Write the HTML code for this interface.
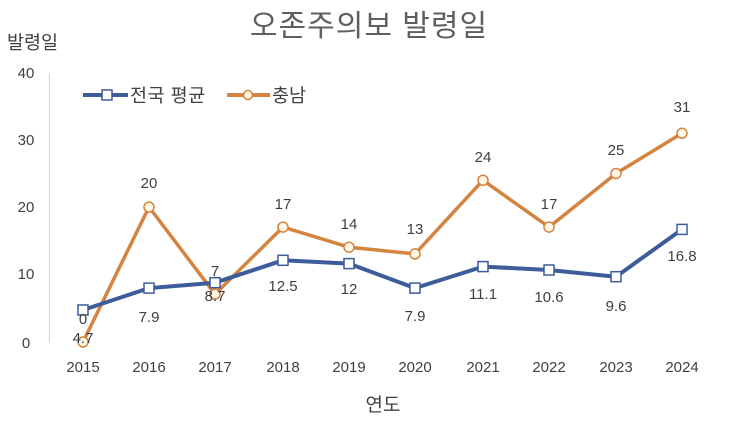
<!DOCTYPE html>
<html><head><meta charset="utf-8"><style>
html,body{margin:0;padding:0;background:#fff;}
svg{display:block;}
text{font-family:"Liberation Sans","Noto Sans CJK KR",sans-serif;fill:#404040;}
</style></head><body>
<svg width="730" height="422" viewBox="0 0 730 422" xmlns="http://www.w3.org/2000/svg">
<rect width="730" height="422" fill="#fff"/>
<text x="369" y="36" font-size="30" text-anchor="middle" letter-spacing="1" style="fill:#5f5f5f">오존주의보 발령일</text>
<text x="7" y="49" font-size="18.5">발령일</text>
<g font-size="15" text-anchor="middle">
<text x="26" y="78">40</text>
<text x="26" y="145">30</text>
<text x="26" y="212">20</text>
<text x="26" y="279">10</text>
<text x="26" y="348">0</text>
</g>
<line x1="49.5" y1="73" x2="49.5" y2="343" stroke="#d9d9d9" stroke-width="1.2"/>
<!-- legend -->
<line x1="83" y1="95" x2="128" y2="95" stroke="#3d5c9a" stroke-width="4"/>
<rect x="102" y="90" width="10" height="10" fill="#fff" stroke="#3d5c9a" stroke-width="1.5"/>
<text x="130" y="102" font-size="18.5" letter-spacing="0.5">전국 평균</text>
<line x1="227" y1="95" x2="270" y2="95" stroke="#d4843f" stroke-width="4"/>
<circle cx="248" cy="95" r="4.5" fill="#fff6e8" stroke="#d4843f" stroke-width="1.5"/>
<text x="272" y="102" font-size="18.5">충남</text>
<!-- orange series -->
<polyline fill="none" stroke="#d4843f" stroke-width="3.5" stroke-linejoin="round"
points="83,342 149,207.0 215,294.1 283,227.1 349,247.2 415,253.9 483,180.2 549,227.1 616,173.5 682,133.3"/>
<!-- blue series -->
<polyline fill="none" stroke="#3d5c9a" stroke-width="4" stroke-linejoin="round"
points="83,310 149,288.1 215,282.7 283,260.3 349,263.6 415,288.1 483,266.6 549,270.0 616,276.7 682,229.4"/>
<g fill="#fff6e8" stroke="#d4843f" stroke-width="1.5">
<circle cx="83" cy="342" r="5"/><circle cx="149" cy="207" r="5"/><circle cx="215" cy="294.1" r="5"/>
<circle cx="283" cy="227.1" r="5"/><circle cx="349" cy="247.2" r="5"/><circle cx="415" cy="253.9" r="5"/>
<circle cx="483" cy="180.2" r="5"/><circle cx="549" cy="227.1" r="5"/><circle cx="616" cy="173.5" r="5"/>
<circle cx="682" cy="133.3" r="5"/>
</g>
<g fill="#fff" stroke="#3d5c9a" stroke-width="1.5">
<rect x="78" y="305" width="10" height="10"/><rect x="144" y="283.1" width="10" height="10"/>
<rect x="210" y="277.7" width="10" height="10"/><rect x="278" y="255.3" width="10" height="10"/>
<rect x="344" y="258.6" width="10" height="10"/><rect x="410" y="283.1" width="10" height="10"/>
<rect x="478" y="261.6" width="10" height="10"/><rect x="544" y="265" width="10" height="10"/>
<rect x="611" y="271.7" width="10" height="10"/><rect x="677" y="224.4" width="10" height="10"/>
</g>
<!-- data labels -->
<g font-size="15" text-anchor="middle">
<text x="83" y="324">0</text>
<text x="149" y="188">20</text>
<text x="215" y="276">7</text>
<text x="283" y="209">17</text>
<text x="349" y="229">14</text>
<text x="415" y="234">13</text>
<text x="483" y="162">24</text>
<text x="549" y="209">17</text>
<text x="616" y="155">25</text>
<text x="682" y="112">31</text>
<text x="83" y="343">4.7</text>
<text x="149" y="322">7.9</text>
<text x="215" y="301">8.7</text>
<text x="283" y="291">12.5</text>
<text x="349" y="294">12</text>
<text x="415" y="321">7.9</text>
<text x="483" y="299">11.1</text>
<text x="549" y="302">10.6</text>
<text x="616" y="311">9.6</text>
<text x="682" y="261">16.8</text>
</g>
<!-- x labels -->
<g font-size="15" text-anchor="middle">
<text x="83" y="372">2015</text><text x="149" y="372">2016</text><text x="215" y="372">2017</text>
<text x="283" y="372">2018</text><text x="349" y="372">2019</text><text x="415" y="372">2020</text>
<text x="483" y="372">2021</text><text x="549" y="372">2022</text><text x="616" y="372">2023</text>
<text x="682" y="372">2024</text>
</g>
<text x="383" y="411" font-size="19" text-anchor="middle">연도</text>
</svg>
</body></html>
